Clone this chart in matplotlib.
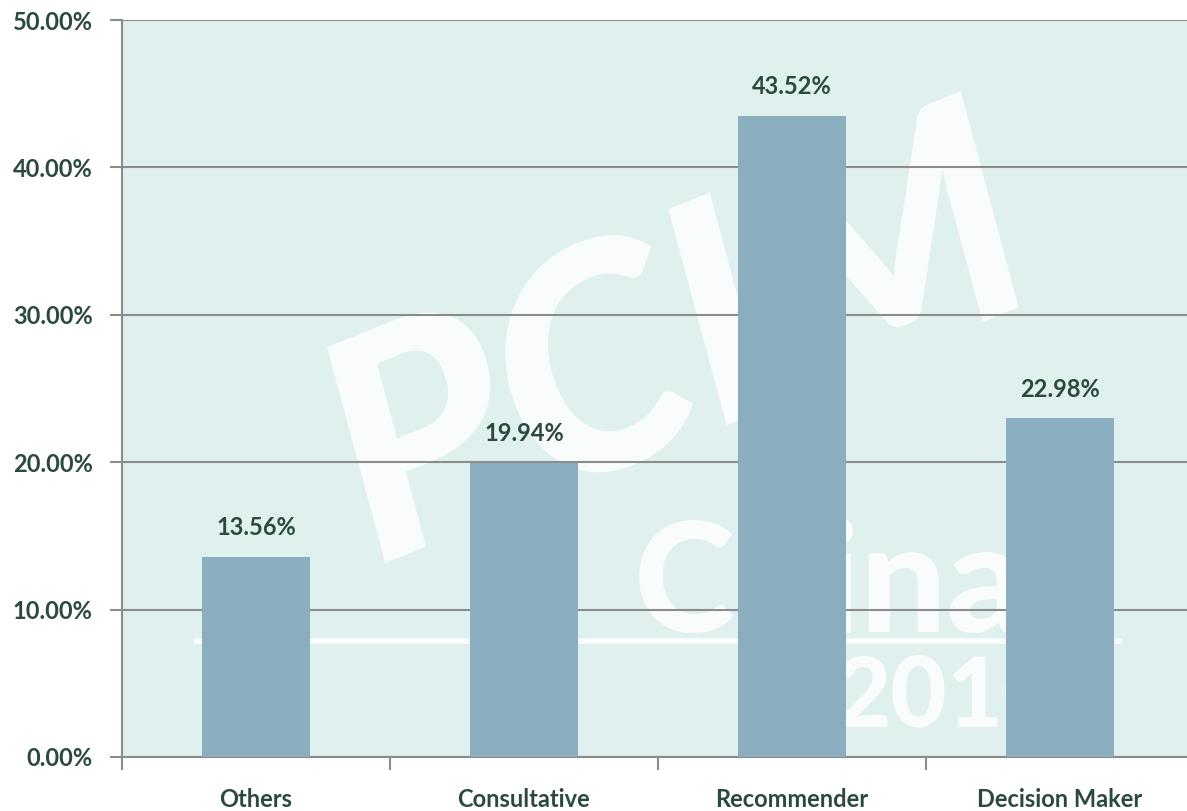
import numpy as np
import matplotlib.pyplot as plt

categories = ["Others", "Consultative", "Recommender", "Decision Maker"]
values = [13.56, 19.94, 43.52, 22.98]
yticks = [0, 10, 20, 30, 40, 50]

txt_color = "#2b4a3c"
plt.rcParams['font.family'] = ['Lato', 'DejaVu Sans']

fig = plt.figure(figsize=(11.87, 8.11), dpi=100)
ax = fig.add_axes([122/1187, 54/811, 1072/1187, (757-20)/811])
ax.set_facecolor("#dff0ee")

# faint watermark behind the bars
wm = dict(transform=ax.transAxes, color="white", alpha=0.85, ha="center", va="center",
          zorder=0.5, fontweight="black")
ax.text(0.52, 0.56, "PCIM", fontsize=220, rotation=22, fontstyle="italic", **wm)
ax.text(0.66, 0.23, "China", fontsize=110, **wm)
ax.text(0.77, 0.08, "2010", fontsize=70, **wm)
ax.axhline(7.9, xmin=0.07, xmax=0.93, color="white", alpha=0.85, lw=4, zorder=0.5)

x = np.arange(len(categories))
ax.bar(x, values, width=0.4, color="#8aaec0", zorder=3)
for xi, v in zip(x, values):
    ax.text(xi, v + 1.2, f"{v:.2f}%", ha="center", va="bottom", fontsize=17,
            fontweight="bold", color=txt_color, zorder=4)

ax.set_xlim(-0.5, 3.5)
ax.set_ylim(0, 50)
ax.set_yticks(yticks)
ax.set_yticklabels([f"{t:.2f}%" for t in yticks], fontsize=17, fontweight="bold", color=txt_color)
ax.yaxis.grid(True, color="#8c8c8c", lw=1.5)
for gl in ax.get_ygridlines():
    gl.set_zorder(1)

ax.set_xticks(x)
ax.set_xticklabels(categories, fontsize=17, fontweight="bold", color=txt_color)
ax.tick_params(axis="x", length=0, pad=22)
ax.set_xticks(np.arange(-0.5, 4, 1), minor=True)
ax.tick_params(axis="x", which="minor", length=9, width=1.5, color="#8c8c8c")
ax.tick_params(axis="y", length=9, width=1.5, color="#8c8c8c", pad=12)

for s in ["top", "right"]:
    ax.spines[s].set_visible(False)
for s in ["left", "bottom"]:
    ax.spines[s].set_color("#8c8c8c")
    ax.spines[s].set_linewidth(1.5)

fig.savefig("out.png", dpi=100)
